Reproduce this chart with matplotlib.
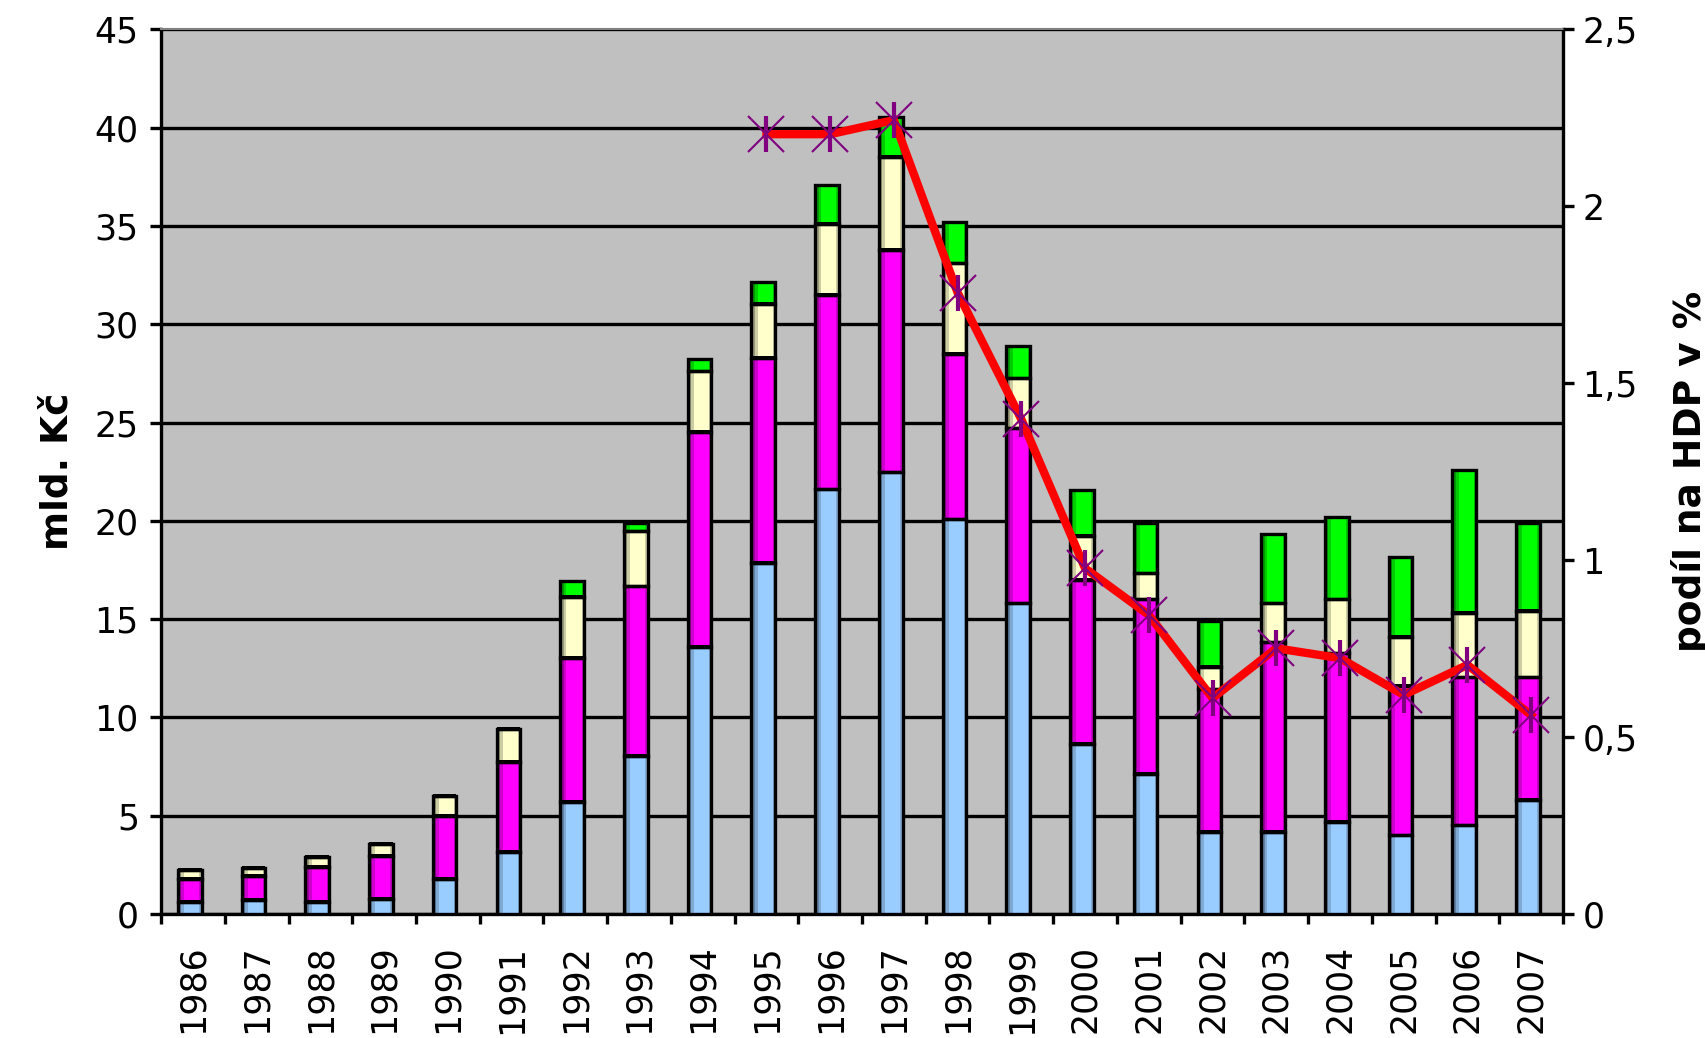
import numpy as np
import matplotlib
matplotlib.use("Agg")
import matplotlib.pyplot as plt

# data (bil. CZK, stacked) and share of GDP (%)
years = ["1986", "1987", "1988", "1989", "1990", "1991", "1992", "1993", "1994", "1995", "1996",
         "1997", "1998", "1999", "2000", "2001", "2002", "2003", "2004", "2005", "2006", "2007"]
blue = [0.6, 0.7, 0.6, 0.75, 1.8, 3.15, 5.7, 8.05, 13.6, 17.87, 21.6,
        22.47, 20.08, 15.8, 8.65, 7.12, 4.17, 4.17, 4.7, 4.0, 4.51, 5.8]
magenta = [1.2, 1.25, 1.8, 2.2, 3.2, 4.6, 7.33, 8.62, 10.93, 10.43, 9.9,
           11.3, 8.4, 8.9, 8.34, 8.88, 7.26, 9.65, 8.56, 7.6, 7.53, 6.24]
cream = [0.45, 0.4, 0.5, 0.6, 1.0, 1.65, 3.1, 2.8, 3.07, 2.73, 3.6,
         4.75, 4.62, 2.55, 2.24, 1.33, 1.15, 1.98, 2.74, 2.5, 3.26, 3.39]
green = [0, 0, 0, 0, 0, 0, 0.81, 0.4, 0.65, 1.12, 2.0,
         2.03, 2.11, 1.64, 2.34, 2.57, 2.34, 3.53, 4.21, 4.04, 7.28, 4.44]
gdp_years = ["1995", "1996", "1997", "1998", "1999", "2000", "2001",
             "2002", "2003", "2004", "2005", "2006", "2007"]
gdp_share = [2.204, 2.204, 2.244, 1.756, 1.398, 0.977, 0.845,
             0.61, 0.751, 0.723, 0.619, 0.704, 0.562]

left_ticks = list(range(0, 50, 5))
right_ticks = [0, 0.5, 1, 1.5, 2, 2.5]
right_labels = ["0", "0,5", "1", "1,5", "2", "2,5"]

plt.rcParams['font.family'] = ['DejaVu Sans']

fig = plt.figure(figsize=(17.06, 10.38), dpi=100)
ax = fig.add_axes([0.0944, 0.1195, 0.8218, 0.8521])
ax.set_facecolor('#C0C0C0')

x = np.arange(len(years))
xc = x - 0.05
w = 0.37
# (values, main colour, dark left shade, mid shade)
series = [(blue, '#99CCFF', '#5F7FA0', '#7FA8D2'),
          (magenta, '#FF00FF', '#990099', '#CC00CC'),
          (cream, '#FFFFCC', '#99997A', '#CCCCA3'),
          (green, '#00FF00', '#009900', '#00CC00')]
bottom = np.zeros(len(years))
for i, (vals, col, dark, mid) in enumerate(series):
    ax.bar(xc, vals, w, bottom=bottom, color=col, linewidth=0, zorder=3)
    # cylinder-like shading on the left side of each bar
    ax.bar(xc - w / 2, vals, w * 0.14, bottom=bottom, align='edge', color=dark, linewidth=0, zorder=3.1)
    ax.bar(xc - w / 2 + w * 0.14, vals, w * 0.12, bottom=bottom, align='edge', color=mid, linewidth=0, zorder=3.1)
    ax.bar(xc + w / 2 - w * 0.1, vals, w * 0.1, bottom=bottom, align='edge', color=mid, linewidth=0, zorder=3.1)
    ax.bar(xc, vals, w, bottom=bottom, fill=False, edgecolor='black', linewidth=2.4, zorder=3.2)
    top = bottom + np.array(vals)
    if i < len(series) - 1:
        # double border between stacked segments
        ax.bar(xc, 0.18, w, bottom=top - 0.09, color='black', linewidth=0, zorder=3.2)
    bottom = top

ax.set_xlim(-0.5, len(years) - 0.5)
ax.set_ylim(0, 45)
ax.set_yticks(left_ticks)
ax.yaxis.grid(True, color='black', linewidth=2.4)
ax.set_axisbelow(True)

ax.set_xticks(x)
ax.set_xticklabels(years, rotation=90, fontsize=25)
ax.set_xticks(np.arange(len(years) + 1) - 0.5, minor=True)
ax.tick_params(axis='x', which='major', length=0, pad=22)
ax.tick_params(axis='x', which='minor', length=7, width=2.4, direction='out')
ax.tick_params(axis='y', labelsize=25, length=8, width=2.4, pad=8)

for s in ['left', 'bottom', 'right']:
    ax.spines[s].set_linewidth(2.4)
ax.spines['top'].set_color('#808080')
ax.spines['top'].set_linewidth(1.5)

ax.set_ylabel('mld. Kč', fontsize=27, fontweight='bold', labelpad=14)

ax2 = ax.twinx()
ax2.set_ylim(0, 2.5)
ax2.set_yticks(right_ticks)
ax2.set_yticklabels(right_labels)
ax2.tick_params(axis='y', labelsize=25, length=8, width=2.4, pad=6)
for s in ax2.spines.values():
    s.set_visible(False)
ax2.patch.set_visible(False)

gx = [years.index(y) for y in gdp_years]
ax2.plot(gx, gdp_share, color='#FF0000', linewidth=6, solid_joinstyle='miter', zorder=4)
ax2.plot(gx, gdp_share, linestyle='none', marker='x', markersize=26, markeredgewidth=1.5,
         color='#800080', zorder=5)
ax2.plot(gx, gdp_share, linestyle='none', marker='|', markersize=26, markeredgewidth=3,
         color='#800080', zorder=5)

ax2.set_ylabel('podíl na HDP v %', fontsize=27, fontweight='bold', labelpad=24)

fig.savefig('out.png', dpi=100)
